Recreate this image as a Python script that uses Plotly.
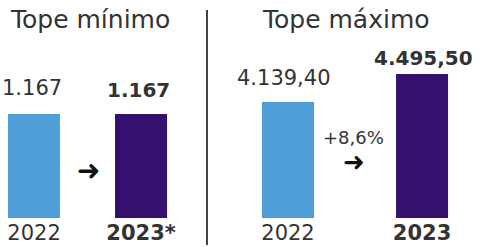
import plotly.graph_objects as go

# ---- data ----
titles = ["Tope mínimo", "Tope máximo"]
years_min = ["2022", "2023*"]
values_min = [1167, 1167]
labels_min = ["1.167", "1.167"]
years_max = ["2022", "2023"]
values_max = [4139.40, 4495.50]
labels_max = ["4.139,40", "4.495,50"]
change_label = "+8,6%"

# ---- style ----
W, H = 479, 247
FONT = "DejaVu Sans"
TXT = "#333333"
colors = ["#4F9ED8", "#35106F"]

def py(px):
    return 1 - px / H

def pxx(px):
    return px / W

fig = go.Figure()
fig.add_trace(go.Bar(x=years_min, y=values_min, marker=dict(color=colors, line=dict(width=0)),
                     width=0.486, xaxis="x", yaxis="y", hoverinfo="skip"))
fig.add_trace(go.Bar(x=years_max, y=values_max, marker=dict(color=colors, line=dict(width=0)),
                     width=0.388, xaxis="x2", yaxis="y2", hoverinfo="skip"))

ydom = [py(218), 1]
fig.update_layout(
    width=W, height=H, margin=dict(l=0, r=0, t=0, b=0),
    paper_bgcolor="white", plot_bgcolor="white", showlegend=False,
    font=dict(family=FONT, color=TXT),
    xaxis=dict(domain=[0, pxx(206)], range=[-0.318, 1.607], anchor="y", type="category",
               showgrid=False, zeroline=False, showline=False, ticks="",
               tickvals=years_min, ticktext=[years_min[0], "<b>%s</b>" % years_min[1]],
               tickfont=dict(size=21, color=TXT)),
    yaxis=dict(domain=ydom, range=[0, 2446], visible=False),
    xaxis2=dict(domain=[pxx(215.5), 1], range=[-0.541, 1.425], anchor="y2", type="category",
                showgrid=False, zeroline=False, showline=False, ticks="",
                tickvals=years_max, ticktext=[years_max[0], "<b>%s</b>" % years_max[1]],
                tickfont=dict(size=21, color=TXT)),
    yaxis2=dict(domain=ydom, range=[2664, 5437], visible=False),
)

# titles
fig.add_annotation(text=titles[0], x=pxx(8), y=py(20), xref="paper", yref="paper",
                   xanchor="left", yanchor="middle", showarrow=False, font=dict(size=25, color=TXT))
fig.add_annotation(text=titles[1], x=pxx(260), y=py(20), xref="paper", yref="paper",
                   xanchor="left", yanchor="middle", showarrow=False, font=dict(size=25, color=TXT))

# value labels (x given as category index)
shifts_min = [(-2, 26), (-3, 24)]
for i, (v, l) in enumerate(zip(values_min, labels_min)):
    txt = l if i == 0 else "<b>%s</b>" % l
    fig.add_annotation(text=txt, x=i, y=v, xref="x", yref="y", showarrow=False,
                       xanchor="center", yanchor="middle",
                       xshift=shifts_min[i][0], yshift=shifts_min[i][1],
                       font=dict(size=21 if i == 0 else 20, color=TXT))
shifts_max = [(-4, 24), (1, 16)]
for i, (v, l) in enumerate(zip(values_max, labels_max)):
    txt = l if i == 0 else "<b>%s</b>" % l
    fig.add_annotation(text=txt, x=i, y=v, xref="x2", yref="y2", showarrow=False,
                       xanchor="center", yanchor="middle",
                       xshift=shifts_max[i][0], yshift=shifts_max[i][1],
                       font=dict(size=21 if i == 0 else 20, color=TXT))

# arrows and change
fig.add_annotation(text="➜", x=pxx(88), y=py(170), xref="paper", yref="paper", showarrow=False,
                   xanchor="center", yanchor="middle", font=dict(size=28, color="#111111"))
fig.add_annotation(text="➜", x=pxx(354), y=py(162), xref="paper", yref="paper", showarrow=False,
                   xanchor="center", yanchor="middle", font=dict(size=26, color="#111111"))
fig.add_annotation(text=change_label, x=pxx(353), y=py(137), xref="paper", yref="paper",
                   xanchor="center", yanchor="middle",
                   showarrow=False, font=dict(size=18, color=TXT))

# divider
fig.add_shape(type="line", xref="paper", yref="paper", x0=pxx(207), x1=pxx(207),
              y0=py(245), y1=py(10), line=dict(color="#444444", width=2))

fig.write_html("out.html", config={"displayModeBar": False},
               post_script="document.body.style.margin='0px';")
